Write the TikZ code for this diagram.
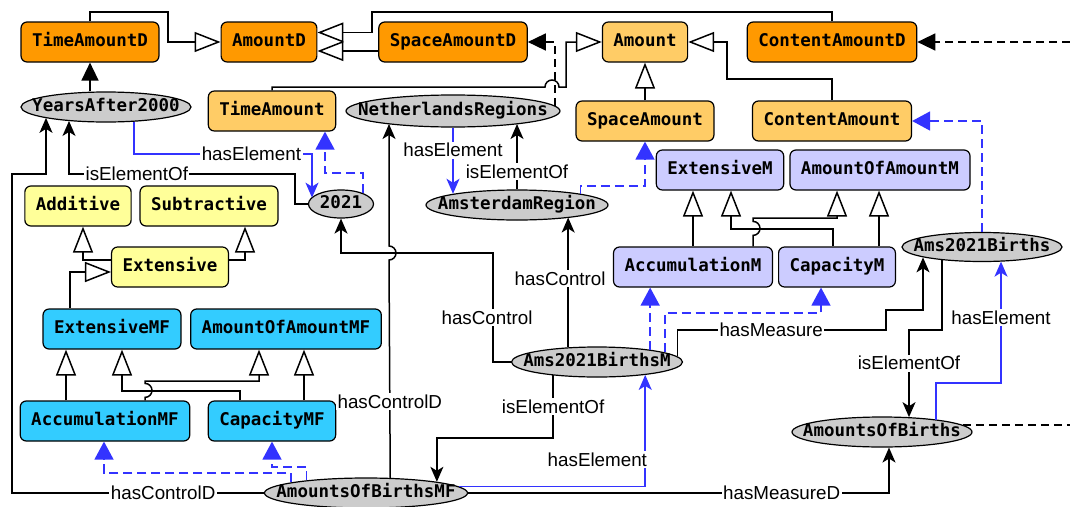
\documentclass[tikz,border=0pt]{standalone}
\usepackage{fontspec}
\setmainfont{Liberation Sans}
\setmonofont{DejaVu Sans Mono}
\usetikzlibrary{shapes.geometric, arrows.meta}

\definecolor{dorange}{RGB}{255,153,0}
\definecolor{lorange}{RGB}{255,204,102}
\definecolor{lyellow}{RGB}{255,255,153}
\definecolor{lviolet}{RGB}{204,204,255}
\definecolor{lcyan}{RGB}{51,204,255}
\definecolor{lgray}{RGB}{204,204,204}
\definecolor{eblue}{RGB}{51,51,255}

\newcommand{\classfont}{\fontsize{17.5}{20}\selectfont\ttfamily\bfseries}
\newcommand{\labelfont}{\fontsize{18.8}{22}\selectfont}
\newcommand{\ztext}[1]{\makebox[0pt]{#1}}

\tikzstyle{classbox} = [rectangle, rounded corners=6pt, minimum height=40pt, inner xsep=11pt, text height=12.8pt, text depth=4pt, text centered, draw=black, line width=1.2pt, font=\classfont]
\tikzstyle{dclass} = [classbox, fill=dorange]
\tikzstyle{aclass} = [classbox, fill=lorange]
\tikzstyle{yclass} = [classbox, fill=lyellow]
\tikzstyle{mclass} = [classbox, fill=lviolet]
\tikzstyle{mfclass} = [classbox, fill=lcyan]
\tikzstyle{setnode} = [ellipse, minimum height=30pt, inner sep=0pt, text height=12.8pt, text depth=4pt, draw=black, line width=1.2pt, fill=lgray, font=\classfont]
\tikzstyle{lbl} = [fill=white, text=black, inner sep=1.5pt, font=\labelfont]
\tikzstyle{gen} = [line width=1.5pt, -{Triangle[open, length=26pt, width=20pt]}]
\tikzstyle{typeD} = [line width=1.5pt, -{Triangle[length=18pt, width=17pt]}]
\tikzstyle{dashD} = [typeD, dash pattern=on 8pt off 5pt]
\tikzstyle{dline} = [line width=1.5pt, dash pattern=on 8pt off 5pt]
\tikzstyle{inst} = [line width=1.5pt, eblue, dash pattern=on 9pt off 5pt, -{Triangle[length=18pt, width=19pt]}]
\tikzstyle{rel} = [line width=1.5pt, -{Stealth[length=15pt, width=13pt, inset=4pt]}]
\tikzstyle{elem} = [rel, eblue]

\begin{document}
\begin{tikzpicture}[x=1pt, y=-1pt, node distance=60pt]
\useasboundingbox (0,0) rectangle (1070,506);
\coordinate (edgeR) at (1070,0);

\node (TimeAmountD) [dclass] at (90,42) {TimeAmountD};
\node (AmountD) [dclass, right of=TimeAmountD, xshift=119pt] {AmountD};
\node (SpaceAmountD) [dclass, right of=AmountD, xshift=124pt] {SpaceAmountD};
\node (Amount) [aclass, right of=SpaceAmountD, xshift=132pt] {Amount};
\node (ContentAmountD) [dclass, right of=Amount, xshift=127pt] {ContentAmountD};

\node (YearsAfter2000) [setnode, minimum width=170pt, below of=TimeAmountD, xshift=16pt, yshift=-5pt] {\ztext{YearsAfter2000}};
\node (TimeAmount) [aclass, below of=AmountD, xshift=3pt, yshift=-9pt] {TimeAmount};
\node (NetherlandsRegions) [setnode, minimum width=214pt, minimum height=32pt, below of=SpaceAmountD, yshift=-9pt] {\ztext{NetherlandsRegions}};
\node (SpaceAmount) [aclass, below of=Amount, yshift=-19pt] {SpaceAmount};
\node (ContentAmount) [aclass, below of=ContentAmountD, yshift=-19pt] {ContentAmount};

\node (Additive) [yclass, below of=YearsAfter2000, xshift=-28pt, yshift=-39pt] {Additive};
\node (Subtractive) [yclass, right of=Additive, xshift=71pt] {Subtractive};
\node (n2021) [setnode, minimum width=65pt, minimum height=28pt, below of=TimeAmount, xshift=69pt, yshift=-33pt] {\ztext{2021}};
\node (AmsterdamRegion) [setnode, minimum width=182pt, below of=NetherlandsRegions, xshift=64pt, yshift=-34pt] {\ztext{AmsterdamRegion}};
\node (ExtensiveM) [mclass, below of=SpaceAmount, xshift=75pt, yshift=11pt] {ExtensiveM};
\node (AmountOfAmountM) [mclass, right of=ExtensiveM, xshift=100pt] {AmountOfAmountM};

\node (Extensive) [yclass, below of=Subtractive, xshift=-39pt, yshift=-1pt] {Extensive};
\node (AccumulationM) [mclass, below of=ExtensiveM, xshift=-27pt, yshift=-37pt] {AccumulationM};
\node (CapacityM) [mclass, right of=AccumulationM, xshift=84pt] {CapacityM};
\node (Ams2021Births) [setnode, minimum width=160pt, minimum height=29pt, below of=AmountOfAmountM, xshift=102pt, yshift=-17pt] {\ztext{Ams2021Births}};

\node (ExtensiveMF) [mfclass, below of=Extensive, xshift=-58pt, yshift=-2pt] {ExtensiveMF};
\node (AmountOfAmountMF) [mfclass, right of=ExtensiveMF, xshift=114pt] {AmountOfAmountMF};
\node (Ams2021BirthsM) [setnode, minimum width=171pt, below of=AccumulationM, xshift=-96pt, yshift=-35pt] {\ztext{Ams2021BirthsM}};

\node (AccumulationMF) [mfclass, below of=ExtensiveMF, xshift=-7pt, yshift=-32pt] {AccumulationMF};
\node (CapacityMF) [mfclass, right of=AccumulationMF, xshift=107pt] {CapacityMF};
\node (AmountsOfBirths) [setnode, minimum width=180pt, below of=CapacityM, xshift=45pt, yshift=-105pt] {\ztext{AmountsOfBirths}};

\node (AmountsOfBirthsMF) [setnode, minimum width=203pt, below of=CapacityMF, xshift=94pt, yshift=-12pt] {\ztext{AmountsOfBirthsMF}};

\draw [gen] (TimeAmountD.north) |- (168,12) |- (AmountD.west);
\draw [gen] (ContentAmountD.north) |- (372,12) |- ([yshift=9.5pt]AmountD.east);
\draw [gen] ([yshift=-9pt]SpaceAmountD.west) -- ([yshift=-9pt]AmountD.east);
\draw [gen] (TimeAmount.north) |- (545,87) arc[start angle=180, end angle=0, radius=7pt] -- (566,87) |- (Amount.west);
\draw [gen] (SpaceAmount) -- (Amount);
\draw [gen] (ContentAmount.north) |- (727,79) |- (Amount.east);

\draw [gen] ([yshift=7pt]Extensive.west) -| ([xshift=5pt]Additive.south);
\draw [gen] ([yshift=7pt]Extensive.east) -| ([xshift=36pt]Subtractive.south);
\draw [gen] ([xshift=-42pt]ExtensiveMF.north) |- ([yshift=-5pt]Extensive.west);
\draw [gen] ([xshift=-39pt]AccumulationMF.north) -- ([xshift=-46pt]ExtensiveMF.south);
\draw [gen] ([xshift=-32pt]CapacityMF.north) |- (122,391) -- ([xshift=10pt]ExtensiveMF.south);
\draw [gen] ([xshift=40pt]AccumulationMF.north) -- ++(0,-3) arc[start angle=-90, end angle=90, radius=7pt] |- (259,381) -- ([xshift=-27pt]AmountOfAmountMF.south);
\draw [gen] ([xshift=32pt]CapacityMF.north) -- ([xshift=18pt]AmountOfAmountMF.south);

\draw [gen] (AccumulationM.north) -- (AccumulationM.north |- ExtensiveM.south);
\draw [gen] ([xshift=-4pt]CapacityM.north) |- (731,229) -- ([xshift=11pt]ExtensiveM.south);
\draw [gen] ([xshift=60pt]AccumulationM.north) -- ++(0,-11) arc[start angle=-90, end angle=90, radius=7pt] |- (837,218) -- ([xshift=-43pt]AmountOfAmountM.south);
\draw [gen] ([xshift=42pt]CapacityM.north) -- ([xshift=-1pt]AmountOfAmountM.south);

\draw [typeD] (YearsAfter2000.north -| TimeAmountD.south) -- (TimeAmountD.south);
\draw [dashD] (NetherlandsRegions.3.5) |- (SpaceAmountD.east);
\draw [dashD] (ContentAmountD.east -| edgeR) -- (ContentAmountD.east);
\draw [dline] (AmountsOfBirths.5) -- (AmountsOfBirths.5 -| edgeR);

\draw [rel] (AmountsOfBirthsMF.west) -- node[lbl, pos=0.4] {hasControlD} (12,493) |- (46,174) -- (46,174 |- YearsAfter2000.190);
\draw [rel] (n2021.west) -| (295,174) -- node[lbl, pos=0.7] {isElementOf} (69,174) -- (69,174 |- YearsAfter2000.200);
\draw [rel] (Ams2021BirthsM.west) -- (493,362) -- node[lbl, pos=0.41, xshift=-6pt] {hasControl} (493,253) -| (n2021.south);
\draw [rel] (AmountsOfBirthsMF.32) -- node[lbl, pos=0.35] {hasControlD} (389,260) arc[start angle=-90, end angle=90, radius=7pt] -- (389,246 |- NetherlandsRegions.191);
\draw [rel] (Ams2021BirthsM.153) -- node[lbl, pos=0.53, xshift=-8pt] {hasControl} (Ams2021BirthsM.153 |- AmsterdamRegion.347);
\draw [rel] (Ams2021BirthsM.197) -- node[lbl] {isElementOf} (Ams2021BirthsM.197 |- 0,438) -| (AmountsOfBirthsMF.9);
\draw [rel] (Ams2021BirthsM.4) |- node[lbl, pos=0.725] {hasMeasure} (886,330) |- (923,310) -- (923,310 |- Ams2021Births.190);
\draw [rel] (Ams2021Births.198) |- (909,330) -- node[lbl, pos=0.38] {isElementOf} (909,330 |- AmountsOfBirths.28);
\draw [rel] (AmountsOfBirthsMF.east) -- node[lbl, pos=0.745] {hasMeasureD} (889,493) -- (889,493 |- AmountsOfBirths.295);
\draw [rel] (AmsterdamRegion.north) -- node[lbl, pos=0.27] {isElementOf} (AmsterdamRegion.north |- NetherlandsRegions.349);

\draw [elem] (YearsAfter2000.332) |- node[lbl, pos=0.83] {hasElement} (312,154) -- (312,154 |- n2021.168);
\draw [elem] (NetherlandsRegions.south) -- node[lbl, pos=0.34] {hasElement} (NetherlandsRegions.south |- AmsterdamRegion.170);
\draw [elem] (AmountsOfBirthsMF.4) -| node[lbl, pos=0.62, anchor=east, xshift=4pt] {hasElement} (Ams2021BirthsM.345);
\draw [elem] (AmountsOfBirths.13) |- (1001,383) -- node[lbl, pos=0.54] {hasElement} (1001,383 |- Ams2021Births.323);

\draw [inst] (n2021.26) |- (325,173) -- (325,173 |- TimeAmount.south);
\draw [inst] (AmsterdamRegion.10) |- (645,186) -- (SpaceAmount.south);
\draw [inst] (Ams2021BirthsM.13) -- (Ams2021BirthsM.13 |- AccumulationM.south);
\draw [inst] (Ams2021BirthsM.8) |- (821,313) -- (821,313 |- CapacityM.south);
\draw [inst] (Ams2021Births.north) |- (ContentAmount.east);
\draw [inst] (AmountsOfBirthsMF.172) |- (104,473) -- (104,473 |- AccumulationMF.south);
\draw [inst] (AmountsOfBirthsMF.168) |- (272,467) -- (272,467 |- CapacityMF.south);
\end{tikzpicture}
\end{document}
